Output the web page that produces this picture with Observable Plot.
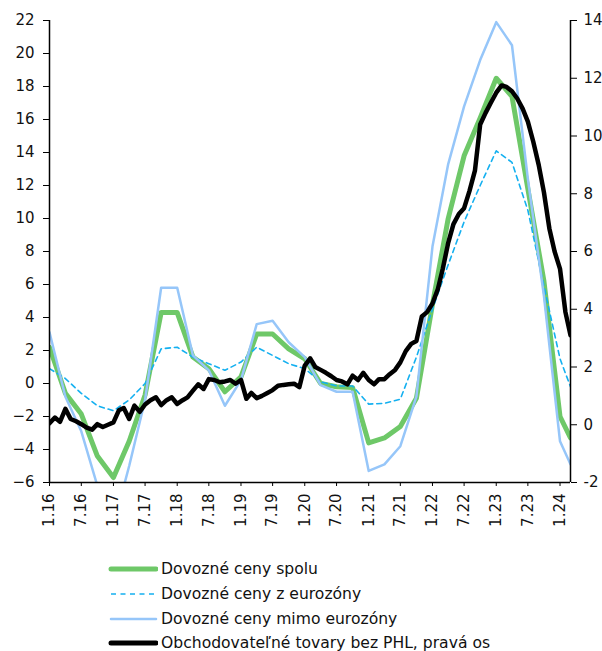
<!DOCTYPE html>
<html><head><meta charset="utf-8">
<script src="https://cdn.jsdelivr.net/npm/d3@7"></script>
<script src="https://cdn.jsdelivr.net/npm/@observablehq/plot@0.6"></script>
<style>
body{margin:0;background:#fff;font-family:"DejaVu Sans",Verdana,sans-serif;}
#wrap{position:relative;width:602px;height:651px;overflow:hidden;background:#fff;}
#legend{position:absolute;left:108px;top:557px;font-size:15.6px;color:#111;}
.row{display:flex;align-items:center;height:24.7px;white-space:nowrap;}
.row svg{margin-right:3px;display:block;}
</style></head><body><div id="wrap"><div id="chart"></div><div id="legend"></div></div>
<script>
// Import price series (quarterly points + latest month)
const importDates = ["2016-01","2016-04","2016-07","2016-10","2017-01","2017-04","2017-07","2017-10",
  "2018-01","2018-04","2018-07","2018-10","2019-01","2019-04","2019-07","2019-10",
  "2020-01","2020-04","2020-07","2020-10","2021-01","2021-04","2021-07","2021-10",
  "2022-01","2022-04","2022-07","2022-10","2023-01","2023-04","2023-07","2023-10",
  "2024-01","2024-03"];
const importTotal = [2.2,-0.6,-1.85,-4.4,-5.7,-3.5,-0.7,4.3,4.3,1.6,0.9,-0.5,0.4,3.0,3.0,2.1,
  1.5,0.0,-0.2,-0.25,-3.6,-3.3,-2.6,-0.9,4.8,10.0,13.8,16.1,18.5,17.4,11.8,6.2,-2.0,-3.3];
const importEuro = [0.9,0.3,-0.6,-1.35,-1.65,-1.0,0.0,2.1,2.2,1.6,1.2,0.8,1.3,2.2,1.7,1.2,
  0.9,0.1,-0.15,-0.15,-1.25,-1.2,-0.95,1.6,4.5,7.2,9.8,12.0,14.1,13.4,10.5,5.9,1.5,-0.2];
const importNonEuro = [3.1,-0.8,-2.9,-6.2,-8.6,-5.0,-1.0,5.8,5.8,1.7,0.8,-1.35,0.2,3.6,3.8,2.5,
  1.6,-0.1,-0.5,-0.5,-5.3,-4.9,-3.8,-0.8,8.3,13.3,16.8,19.6,21.9,20.5,12.4,5.3,-3.5,-4.9];
// Tradable goods excl. fuel and food (monthly, right axis), Jan 2016 - Mar 2024
const tradableStart = "2016-01";
const tradable = [
  0.05,0.25,0.1,0.55,0.2,0.12,0.02,-0.1,-0.17,0.02,-0.08,0.0,
  0.08,0.5,0.58,0.2,0.66,0.45,0.7,0.85,0.95,0.68,0.85,0.95,
  0.72,0.85,0.95,1.18,1.4,1.24,1.58,1.55,1.47,1.5,1.55,1.42,
  1.55,0.9,1.1,0.92,1.0,1.1,1.2,1.35,1.38,1.4,1.42,1.3,
  2.05,2.3,2.0,1.9,1.8,1.68,1.55,1.5,1.4,1.7,1.55,1.8,
  1.55,1.4,1.58,1.58,1.75,1.9,2.16,2.55,2.8,2.9,3.75,3.9,
  4.2,4.7,5.4,6.3,6.95,7.3,7.5,8.1,8.8,10.4,10.8,11.15,
  11.5,11.75,11.7,11.55,11.3,10.95,10.5,9.8,9.0,8.05,6.8,6.0,
  5.4,3.9,3.1];
const leftTicks = [-6,-4,-2,0,2,4,6,8,10,12,14,16,18,20,22];
const rightTicks = [-2,0,2,4,6,8,10,12,14];
const xTickDates = ["2016-01","2016-07","2017-01","2017-07","2018-01","2018-07","2019-01","2019-07",
  "2020-01","2020-07","2021-01","2021-07","2022-01","2022-07","2023-01","2023-07","2024-01"];
const xTickLabels = ["1.16","7.16","1.17","7.17","1.18","7.18","1.19","7.19",
  "1.20","7.20","1.21","7.21","1.22","7.22","1.23","7.23","1.24"];
const seriesNames = ["Dovozné ceny spolu","Dovozné ceny z eurozóny","Dovozné ceny mimo eurozóny","Obchodovateľné tovary bez PHL, pravá os"];
const colors = ["#6ec868","#14b0f0","#96c6f9","#000000"];

const parse = d3.utcParse("%Y-%m");
const L0 = -6, L1 = 22, R0 = -2, R1 = 14;
const toLeft = v => L0 + (v - R0) * (L1 - L0) / (R1 - R0);
const fromLeft = v => Math.round(R0 + (v - L0) * (R1 - R0) / (L1 - L0));

const imp = importDates.map((d, i) => ({date: parse(d), total: importTotal[i], euro: importEuro[i], non: importNonEuro[i]}));
const start = parse(tradableStart);
const trad = tradable.map((v, i) => ({date: d3.utcMonth.offset(start, i), v: toLeft(v)}));
const xDomain = [parse(importDates[0]), trad[trad.length - 1].date];
const tickD = xTickDates.map(parse);

const chart = Plot.plot({
  width: 602, height: 545,
  marginTop: 20, marginBottom: 63, marginLeft: 49, marginRight: 32,
  style: {fontFamily: "'DejaVu Sans', Verdana, sans-serif", fontSize: "15px", color: "#111", background: "#fff", overflow: "visible"},
  x: {type: "utc", domain: xDomain},
  y: {domain: [L0, L1]},
  marks: [
    Plot.axisY(leftTicks, {anchor: "left", tickSize: 6, tickPadding: 9, label: null, stroke: "#000"}),
    Plot.axisY(rightTicks.map(toLeft), {anchor: "right", tickSize: 6, tickPadding: 7, label: null, tickFormat: d => String(fromLeft(d)), stroke: "#000"}),
    Plot.axisX(tickD, {anchor: "bottom", tickSize: 4, tickPadding: 7, tickRotate: -90, label: null,
      tickFormat: d => xTickLabels[tickD.findIndex(t => +t === +d)], stroke: "#000"}),
    Plot.line(imp, {x: "date", y: "total", stroke: colors[0], strokeWidth: 5, clip: "frame", strokeLinejoin: "round"}),
    Plot.line(imp, {x: "date", y: "euro", stroke: colors[1], strokeWidth: 1.6, strokeDasharray: "5,4", clip: "frame"}),
    Plot.line(imp, {x: "date", y: "non", stroke: colors[2], strokeWidth: 2.5, clip: "frame"}),
    Plot.line(trad, {x: "date", y: "v", stroke: colors[3], strokeWidth: 4.5, clip: "frame", strokeLinejoin: "round"}),
    Plot.ruleY([L0], {stroke: "#000", strokeWidth: 1.5}),
    Plot.ruleX([xDomain[0]], {stroke: "#000", strokeWidth: 1.5}),
    Plot.ruleX([xDomain[1]], {stroke: "#000", strokeWidth: 1.5})
  ]
});
document.getElementById("chart").appendChild(chart);

const leg = d3.select("#legend");
const styles = [
  {w: 5, dash: null}, {w: 1.6, dash: "5,4.5"}, {w: 2.5, dash: null}, {w: 5, dash: null}
];
seriesNames.forEach((name, i) => {
  const row = leg.append("div").attr("class", "row");
  const s = row.append("svg").attr("width", 50).attr("height", 10);
  s.append("line").attr("x1", 3).attr("x2", 48).attr("y1", 5).attr("y2", 5)
    .attr("stroke", colors[i]).attr("stroke-width", styles[i].w)
    .attr("stroke-linecap", styles[i].dash ? "butt" : "round")
    .attr("stroke-dasharray", styles[i].dash);
  row.append("span").text(name);
});
</script></body></html>
